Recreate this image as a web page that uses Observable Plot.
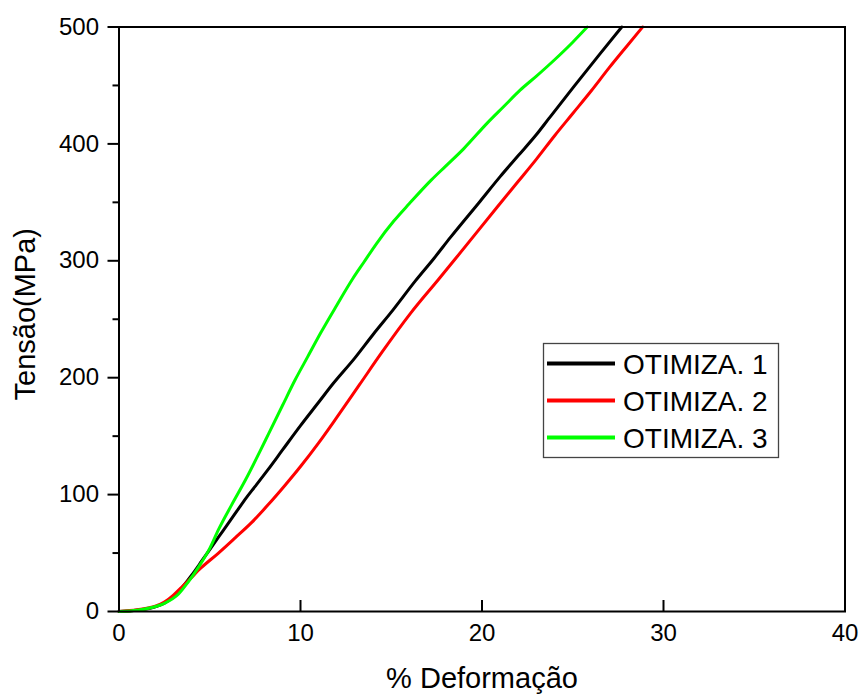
<!DOCTYPE html>
<html>
<head>
<meta charset="utf-8">
<script src="https://cdn.jsdelivr.net/npm/d3@7"></script>
<script src="https://cdn.jsdelivr.net/npm/@observablehq/plot@0.6"></script>
<style>
  html, body { margin: 0; padding: 0; background: white; }
  svg { display: block; }
</style>
</head>
<body>
<div id="chart"></div>
<script>
// ---- Data ----
const seriesNames = ["OTIMIZA. 1", "OTIMIZA. 2", "OTIMIZA. 3"];
const seriesColors = ["#000000", "#ff0000", "#00ff00"];

// OTIMIZA. 1 (black)
const strain1 = [0, 1, 2, 2.5, 3, 3.5, 4, 4.55, 5, 5.5, 6, 6.5, 7, 7.5, 8.24, 9, 10, 11, 11.8, 13, 14, 15.1, 16.34, 17.35, 18.26, 19.9, 21, 22, 23, 23.7, 25.06, 26.5, 27.7];
const stress1 = [0, 1, 4, 7, 13, 21, 31, 43, 53, 64, 75, 86, 97, 107, 122, 138, 159, 179, 195, 217, 237, 258, 283, 302, 320, 351, 372, 390, 408, 422, 449, 477, 500];

// OTIMIZA. 2 (red)
const strain2 = [0, 1, 2, 2.5, 3, 3.4, 3.83, 4.5, 5.48, 6.4, 7.3, 8.2, 9.15, 10, 10.99, 12, 13.25, 14.5, 16.06, 17.6, 18.6, 20.84, 22, 23, 24, 25, 26, 27, 28, 28.85];
const stress2 = [0, 1.5, 4.5, 8, 14, 20, 26.5, 37, 50, 63, 76, 91, 108, 124, 144, 166, 194, 222, 255, 284, 303, 346, 368, 387, 407, 426, 445, 465, 484, 500];

// OTIMIZA. 3 (green)
const strain3 = [0, 1, 1.8, 2.5, 3.28, 3.8, 4.38, 5, 5.48, 6.2, 6.95, 7.8, 8.24, 9, 9.7, 10.4, 11.1, 12, 12.85, 13.5, 14.2, 15.14, 16, 17.2, 18, 19, 20.3, 21.2, 22.1, 23, 24, 25, 25.8];
const stress3 = [0, 1, 3.4, 7, 15, 25, 38, 54, 70, 91, 112, 138, 152, 176, 198, 218, 238, 262, 284, 299, 315, 334, 349, 369, 381, 396, 418, 432, 446, 458, 472, 487, 500];

const xTicks = [0, 10, 20, 30, 40];
const yTicks = [0, 100, 200, 300, 400, 500];
const yMinorTicks = [50, 150, 250, 350, 450];

const xLabel = "% Deformação";
const yLabel = "Tensão(MPa)";

// ---- Build table ----
const strains = [strain1, strain2, strain3];
const stresses = [stress1, stress2, stress3];
const data = [];
seriesNames.forEach((name, i) => {
  strains[i].forEach((xv, j) => data.push({series: name, strain: xv, stress: stresses[i][j]}));
});

// ---- Layout ----
const W = 859, H = 695;
const mL = 118.5, mR = 14.5, mT = 26.5, mB = 84;
const plotW = W - mL - mR, plotH = H - mT - mB;
const font = "'Liberation Sans', Arial, Helvetica, sans-serif";

const chart = Plot.plot({
  width: W,
  height: H,
  marginLeft: mL,
  marginRight: mR,
  marginTop: mT,
  marginBottom: mB,
  style: {fontFamily: font, background: "white", color: "black", overflow: "visible"},
  x: {domain: [0, 40]},
  y: {domain: [0, 500]},
  color: {domain: seriesNames, range: seriesColors},
  marks: [
    Plot.line(data, {x: "strain", y: "stress", z: "series", stroke: "series", strokeWidth: 3, curve: "monotone-x"}),
    Plot.frame({stroke: "black", strokeWidth: 2}),
    // x ticks inward
    Plot.ruleX(xTicks, {x: d => d, insetTop: plotH - 11, stroke: "black", strokeWidth: 2}),
    // y major ticks outward
    Plot.ruleY(yTicks, {y: d => d, insetLeft: -11, insetRight: plotW, stroke: "black", strokeWidth: 2}),
    // y minor ticks outward
    Plot.ruleY(yMinorTicks, {y: d => d, insetLeft: -6, insetRight: plotW, stroke: "black", strokeWidth: 2}),
    Plot.axisX({ticks: xTicks, tickSize: 0, tickPadding: 12, fontSize: 24, label: null, tickFormat: d => d}),
    Plot.axisY({ticks: yTicks, tickSize: 0, tickPadding: 20, fontSize: 24, label: null, tickFormat: d => d}),
    Plot.text([xLabel], {frameAnchor: "bottom", lineAnchor: "middle", textAnchor: "middle", dy: 67, fontSize: 29, fill: "black"}),
    Plot.text([yLabel], {frameAnchor: "left", lineAnchor: "middle", textAnchor: "middle", rotate: -90, dx: -93, dy: -5, fontSize: 29, fill: "black"})
  ]
});

// ---- Legend (inside plot area) ----
const svg = d3.select(chart);
const lg = svg.append("g").attr("font-family", font).attr("text-anchor", "start");
lg.append("rect")
  .attr("x", 543.5).attr("y", 343.5).attr("width", 235).attr("height", 114)
  .attr("fill", "white").attr("stroke", "#444").attr("stroke-width", 1.3);
const rowY = [363.5, 400.5, 437.5];
seriesNames.forEach((name, i) => {
  lg.append("line")
    .attr("x1", 547).attr("x2", 615).attr("y1", rowY[i]).attr("y2", rowY[i])
    .attr("stroke", seriesColors[i]).attr("stroke-width", 4);
  lg.append("text")
    .attr("x", 623).attr("y", rowY[i]).attr("dy", "0.36em")
    .attr("text-anchor", "start")
    .attr("font-size", 28).attr("fill", "black")
    .text(name);
});

document.getElementById("chart").appendChild(chart);
</script>
</body>
</html>
